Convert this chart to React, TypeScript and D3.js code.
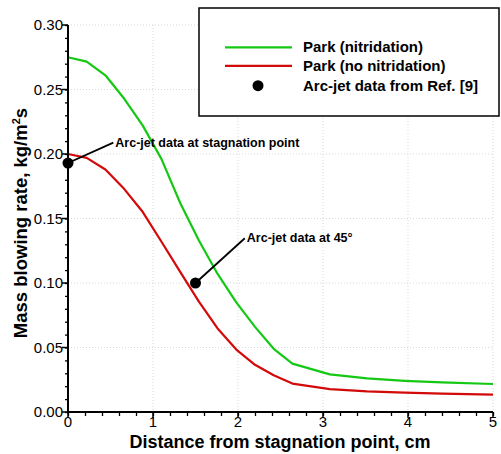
import React, { useEffect, useRef } from 'react';
import * as d3 from 'd3';

// distance from stagnation point (cm)
const distance = [0, 0.22, 0.44, 0.66, 0.88, 1.1, 1.32, 1.54, 1.76, 1.98, 2.2, 2.42, 2.64, 3.08, 3.52, 3.96, 4.4, 5.0];
const parkNitridation = [0.275, 0.2716, 0.261, 0.243, 0.222, 0.196, 0.162, 0.133, 0.107, 0.085, 0.066, 0.049, 0.0375, 0.0292, 0.026, 0.0242, 0.023, 0.0217];
const parkNoNitridation = [0.2, 0.197, 0.188, 0.173, 0.155, 0.132, 0.1086, 0.0855, 0.0648, 0.0484, 0.0366, 0.0285, 0.022, 0.0178, 0.016, 0.015, 0.0142, 0.0134];

const arcJet = [
  { x: 0, y: 0.193, label: 'Arc-jet data at stagnation point', lx: 0.533, ly: 0.2088 },
  { x: 1.5, y: 0.1, label: 'Arc-jet data at 45°', lx: 2.08, ly: 0.1347 },
];

const xTicks = [0, 1, 2, 3, 4, 5];
const yTicks = [0, 0.05, 0.1, 0.15, 0.2, 0.25, 0.3];

const series = [
  { name: 'Park (nitridation)', values: parkNitridation, color: '#14c814' },
  { name: 'Park (no nitridation)', values: parkNoNitridation, color: '#d20a0a' },
];

const App = () => {
  const svgRef = useRef<SVGSVGElement>(null);

  useEffect(() => {
    const svg = d3.select(svgRef.current);
    svg.selectAll('*').remove();

    const width = 501;
    const height = 454;
    const left = 68, right = 493, top = 25, bottom = 412;
    const font = 'Liberation Sans, Arial, Helvetica, sans-serif';

    const x = d3.scaleLinear().domain([0, 5]).range([left, right]);
    const y = d3.scaleLinear().domain([0, 0.3]).range([bottom, top]);

    svg.attr('width', width).attr('height', height);
    svg.append('rect').attr('width', width).attr('height', height).attr('fill', 'white');

    // dotted grid
    const grid = svg.append('g').attr('stroke', '#cfcfcf').attr('stroke-width', 0.8).attr('stroke-dasharray', '1,2');
    xTicks.slice(1).forEach(t => {
      grid.append('line').attr('x1', x(t)).attr('x2', x(t)).attr('y1', top).attr('y2', bottom);
    });
    yTicks.slice(1).forEach(t => {
      grid.append('line').attr('x1', left).attr('x2', right).attr('y1', y(t)).attr('y2', y(t));
    });

    // curves
    const line = d3.line<number>()
      .x((_, i) => x(distance[i]))
      .y(d => y(d));
    series.forEach(s => {
      svg.append('path')
        .datum(s.values)
        .attr('d', line)
        .attr('fill', 'none')
        .attr('stroke', s.color)
        .attr('stroke-width', 2.2)
        .attr('stroke-linejoin', 'round');
    });

    // axes
    const xAxis = d3.axisBottom(x).tickValues(d3.range(0, 5.001, 0.2)).tickSize(4).tickFormat(() => '');
    const gx = svg.append('g').attr('transform', `translate(0,${bottom})`).call(xAxis);
    const yAxis = d3.axisLeft(y).tickValues(d3.range(0, 0.3001, 0.01)).tickSize(3).tickFormat(() => '');
    const gy = svg.append('g').attr('transform', `translate(${left},0)`).call(yAxis);
    [gx, gy].forEach(g => {
      g.select('.domain').remove();
      g.selectAll('line').attr('stroke', '#000').attr('stroke-width', 1.3);
    });
    // major ticks
    xTicks.forEach(t => {
      svg.append('line').attr('x1', x(t)).attr('x2', x(t)).attr('y1', bottom).attr('y2', bottom + 6)
        .attr('stroke', '#000').attr('stroke-width', 1.5);
      svg.append('text').attr('x', x(t)).attr('y', bottom + 15).attr('text-anchor', 'middle')
        .style('font-family', font).style('font-size', '15px').text(t);
    });
    yTicks.forEach(t => {
      svg.append('line').attr('x1', left - 6).attr('x2', left).attr('y1', y(t)).attr('y2', y(t))
        .attr('stroke', '#000').attr('stroke-width', 1.5);
      svg.append('text').attr('x', left - 5).attr('y', y(t) + 5).attr('text-anchor', 'end')
        .style('font-family', font).style('font-size', '15px').text(d3.format('.2f')(t));
    });
    svg.append('line').attr('x1', left).attr('x2', left).attr('y1', top).attr('y2', bottom + 1)
      .attr('stroke', '#000').attr('stroke-width', 2);
    svg.append('line').attr('x1', left - 1).attr('x2', right).attr('y1', bottom).attr('y2', bottom)
      .attr('stroke', '#000').attr('stroke-width', 2);

    // axis titles
    svg.append('text')
      .attr('x', 280).attr('y', 448).attr('text-anchor', 'middle')
      .style('font-family', font).style('font-size', '18px').style('font-weight', 'bold')
      .text('Distance from stagnation point, cm');
    const yt = svg.append('text')
      .attr('transform', 'translate(27,223) rotate(-90)').attr('text-anchor', 'middle')
      .style('font-family', font).style('font-size', '18.5px').style('font-weight', 'bold');
    yt.append('tspan').text('Mass blowing rate, kg/m');
    yt.append('tspan').attr('dy', -7).style('font-size', '11px').text('2');
    yt.append('tspan').attr('dy', 7).text('s');

    // arc-jet data and annotations
    arcJet.forEach(d => {
      svg.append('line')
        .attr('x1', x(d.x)).attr('y1', y(d.y)).attr('x2', x(d.lx)).attr('y2', y(d.ly))
        .attr('stroke', '#000').attr('stroke-width', 1.8);
      svg.append('circle').attr('cx', x(d.x)).attr('cy', y(d.y)).attr('r', 5.5).attr('fill', '#000');
      svg.append('text').attr('x', x(d.lx) + 2).attr('y', y(d.ly) + 4)
        .style('font-family', font).style('font-size', '12.5px').style('font-weight', 'bold')
        .text(d.label);
    });

    // legend
    const lg = svg.append('g');
    lg.append('rect').attr('x', 199).attr('y', 8).attr('width', 300).attr('height', 108)
      .attr('fill', 'white').attr('stroke', '#000').attr('stroke-width', 1.5);
    series.forEach((s, i) => {
      const ly = 47.3 + i * 18.5;
      lg.append('line').attr('x1', 225).attr('x2', 292).attr('y1', ly).attr('y2', ly)
        .attr('stroke', s.color).attr('stroke-width', 2.2);
      lg.append('text').attr('x', 303).attr('y', ly + 5)
        .style('font-family', font).style('font-size', '15px').style('font-weight', 'bold').text(s.name);
    });
    lg.append('circle').attr('cx', 258).attr('cy', 85.7).attr('r', 5.5).attr('fill', '#000');
    lg.append('text').attr('x', 303).attr('y', 90.7)
      .style('font-family', font).style('font-size', '15px').style('font-weight', 'bold')
      .text('Arc-jet data from Ref. [9]');
  }, []);

  return (
    <div style={{ position: 'absolute', left: 0, top: 0 }}>
      <svg ref={svgRef} style={{ display: 'block' }}></svg>
    </div>
  );
};

export default App;
